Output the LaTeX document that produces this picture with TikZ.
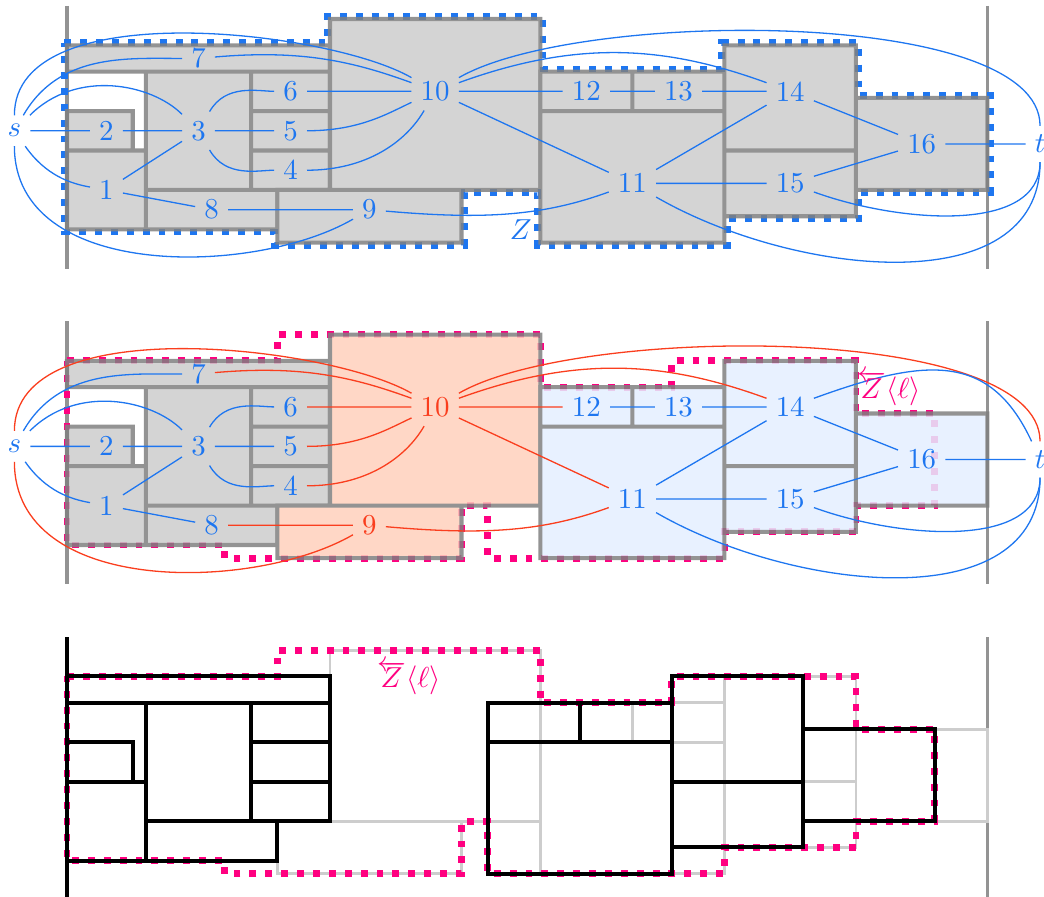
\documentclass[tikz,border=0pt]{standalone}
\usepackage{tikz}
\definecolor{zblue}{RGB}{30,118,240}
\definecolor{zred}{RGB}{250,62,30}
\definecolor{zpink}{RGB}{255,0,128}
\definecolor{wallgray}{RGB}{128,128,128}
\definecolor{roomgray}{RGB}{205,205,205}
\definecolor{roomorange}{RGB}{255,208,188}
\definecolor{roomblue}{RGB}{228,239,255}
\definecolor{ghostgray}{RGB}{205,205,205}
\tikzset{
  lroom/.style = {draw=wallgray, fill=roomgray, line width=1.4pt},
  mroom/.style = {lroom},
  rroom/.style = {lroom},
  ghost/.style = {draw=ghostgray, line width=1pt},
  ink/.style   = {draw=black, line width=1.4pt},
  rim/.style   = {draw=wallgray!85, line width=1.1pt},
  vtx/.style   = {text=zblue, inner sep=3pt},
  hvtx/.style  = {vtx, text=zred},
  link/.style  = {draw=zblue, line width=0.45pt},
  hlink/.style = {link, draw=zred},
  cut/.style   = {line width=2.4pt, dash pattern=on 2.4pt off 3.1pt},
}
\newcommand{\leftrooms}{%
  \path[lroom] (0,-10) rectangle (6,-16)
    (0,-7) rectangle (5,-10)
    (6,-4) rectangle (14,-13)
    (14,-10) rectangle (20,-13)
    (14,-7) rectangle (20,-10)
    (14,-4) rectangle (20,-7)
    (0,-2) rectangle (20,-4)
    (6,-13) rectangle (16,-16);
}
\newcommand{\midrooms}{%
  \path[mroom] (16,-13) rectangle (30,-17)
    (20,0) rectangle (36,-13);
}
\newcommand{\rightrooms}{%
  \path[rroom] (36,-7) rectangle (50,-17)
    (36,-4) rectangle (43,-7)
    (43,-4) rectangle (50,-7)
    (50,-2) rectangle (60,-10)
    (50,-10) rectangle (60,-15)
    (60,-6) rectangle (70,-13);
}
\newcommand{\roomgraph}{%
  \node[vtx]  (s)   at (-4,-8.5)   {$s$};
  \node[vtx]  (v1)  at (3,-13)     {1};
  \node[vtx]  (v2)  at (3,-8.5)    {2};
  \node[vtx]  (v3)  at (10,-8.5)   {3};
  \node[vtx]  (v4)  at (17,-11.5)  {4};
  \node[vtx]  (v5)  at (17,-8.5)   {5};
  \node[vtx]  (v6)  at (17,-5.5)   {6};
  \node[vtx]  (v7)  at (10,-3)     {7};
  \node[vtx]  (v8)  at (11,-14.5)  {8};
  \node[hvtx] (v9)  at (23,-14.5)  {9};
  \node[hvtx] (v10) at (28,-5.5)   {10};
  \node[vtx]  (v11) at (43,-12.5)  {11};
  \node[vtx]  (v12) at (39.5,-5.5) {12};
  \node[vtx]  (v13) at (46.5,-5.5) {13};
  \node[vtx]  (v14) at (55,-5.5)   {14};
  \node[vtx]  (v15) at (55,-12.5)  {15};
  \node[vtx]  (v16) at (65,-9.5)   {16};
  \node[vtx]  (t)   at (74,-9.5)   {$t$};
  \draw[link] (s) -- (v2) (v2) -- (v3) (v1) -- (v3) (v1) -- (v8) (v3) -- (v5)
    (v12) -- (v13) (v13) -- (v14) (v11) -- (v14) (v11) -- (v15)
    (v14) -- (v16) (v15) -- (v16) (v16) -- (t);
  \draw[link] (s) to[out=60,in=180] (v7);
  \draw[link] (s) to[out=45,in=135] (v3);
  \draw[link] (s) to[out=-55,in=170] (v1);
  \draw[link] (v3) to[out=60,in=180] (v6);
  \draw[link] (v3) to[out=-60,in=180] (v4);
  \draw[link] (v15) to[out=-20,in=-90,looseness=1.0] (t);
  \draw[link] (v11) to[out=-30,in=-90,looseness=1.05] (t);
  \draw[hlink] (v6) -- (v10) (v8) -- (v9) (v10) -- (v12) (v10) -- (v11);
  \draw[hlink] (s) to[out=90,in=150,looseness=0.74] (v10);
  \draw[hlink] (s) to[out=-90,in=-150,looseness=0.95] (v9);
  \draw[hlink] (v7) to[out=5,in=160] (v10);
  \draw[hlink] (v5) to[out=0,in=-155] (v10);
  \draw[hlink] (v4) to[out=0,in=-120] (v10);
  \draw[hlink] (v9) to[out=-5,in=-160] (v11);
  \draw[hlink] (v10) to[out=20,in=160] (v14);
  \draw[hlink] (v10) to[out=30,in=90,looseness=0.6] (t);
}

\begin{document}
\begin{tikzpicture}[x=0.16cm, y=0.16cm]
  \useasboundingbox (-5.095,1.445) rectangle (74.30,-66.77);

  % the cut Z
  \begin{scope}[name prefix=a-, hvtx/.style={vtx}, hlink/.style={link}]
    \draw[rim] (0,1) -- (0,-19) (70,1) -- (70,-19);
    \draw[cut, zblue] (-0.2,-1.8) -- (19.8,-1.8) -- (19.8,0.2) -- (36.2,0.2)
      -- (36.2,-3.8) -- (49.8,-3.8) -- (49.8,-1.8) -- (60.2,-1.8) -- (60.2,-5.8)
      -- (70.2,-5.8) -- (70.2,-13.2) -- (60.2,-13.2) -- (60.2,-15.2)
      -- (50.2,-15.2) -- (50.2,-17.2) -- (35.8,-17.2) -- (35.8,-13.2)
      -- (30.2,-13.2) -- (30.2,-17.2) -- (15.8,-17.2) -- (15.8,-16.2)
      -- (-0.2,-16.2) -- cycle;
    \begin{scope}[transparency group, opacity=0.85]
      \leftrooms \midrooms \rightrooms
    \end{scope}
    \roomgraph
    \node[vtx] (z) at (34.5,-16) {$Z$};
  \end{scope}

  % the cut Z<l>, coloured
  \begin{scope}[shift={(0,-24)}, name prefix=b-,
      mroom/.style={lroom, fill=roomorange}, rroom/.style={lroom, fill=roomblue}]
    \draw[rim] (0,1) -- (0,-19) (70,1) -- (70,-19);
    \draw[cut, zpink] (0,-2) -- (16,-2) -- (16,0) -- (36,0) -- (36,-4) -- (46,-4)
      -- (46,-2) -- (60,-2) -- (60,-6) -- (66,-6) -- (66,-13) -- (60,-13)
      -- (60,-15) -- (50,-15) -- (50,-17) -- (32,-17) -- (32,-13) -- (30,-13)
      -- (30,-17) -- (12,-17) -- (12,-16) -- (0,-16) -- cycle;
    \begin{scope}[transparency group, opacity=0.85]
      \leftrooms \midrooms \rightrooms
    \end{scope}
    \roomgraph
    \draw[link] (v14) to[out=20,in=115,looseness=1.3] (t);
    \node[text=zpink, inner sep=1pt] (zl) at (62.5,-4.1) {$\overleftarrow{Z}\langle\ell\rangle$};
  \end{scope}

  % rooms right of the cut moved left
  \begin{scope}[shift={(0,-48)}]
    \draw[rim] (70,1) -- (70,-19);
    \begin{scope}[lroom/.style=ghost, mroom/.style=ghost, rroom/.style=ghost]
      \leftrooms \midrooms \rightrooms
    \end{scope}
    \draw[cut, zpink] (0,-2) -- (16,-2) -- (16,0) -- (36,0) -- (36,-4) -- (46,-4)
      -- (46,-2) -- (60,-2) -- (60,-6) -- (66,-6) -- (66,-13) -- (60,-13)
      -- (60,-15) -- (50,-15) -- (50,-17) -- (32,-17) -- (32,-13) -- (30,-13)
      -- (30,-17) -- (12,-17) -- (12,-16) -- (0,-16) -- cycle;
    \begin{scope}[lroom/.style=ink, rroom/.style=ink]
      \draw[ink] (0,1) -- (0,-19);
      \leftrooms
      \begin{scope}[shift={(-4,0)}]
        \rightrooms
      \end{scope}
    \end{scope}
    \node[text=zpink, inner sep=1pt] (zl3) at (26,-2.1) {$\overleftarrow{Z}\langle\ell\rangle$};
  \end{scope}
\end{tikzpicture}
\end{document}
